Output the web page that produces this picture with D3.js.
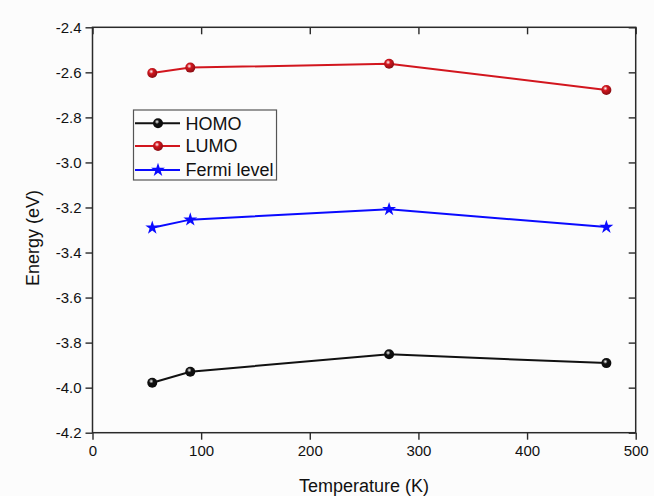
<!DOCTYPE html>
<html>
<head>
<meta charset="utf-8">
<script src="https://cdn.jsdelivr.net/npm/d3@7/dist/d3.min.js"></script>
<style>
  body { margin: 0; background: #fcfcfc; }
  svg { display: block; font-family: Arial, "Liberation Sans", sans-serif; }
</style>
</head>
<body>
<svg width="654" height="496"></svg>
<script>
// **** Data ****
var temperatures = [55, 90, 273, 473];
var homo = [-3.978, -3.929, -3.852, -3.891];
var lumo = [-2.603, -2.579, -2.562, -2.678];
var fermi = [-3.290, -3.254, -3.208, -3.287];
var xTicks = [0, 100, 200, 300, 400, 500];
var yTicks = [-2.4, -2.6, -2.8, -3.0, -3.2, -3.4, -3.6, -3.8, -4.0, -4.2];

var series = [
    { name: 'HOMO', values: homo, color: '#111111', marker: 'ball' },
    { name: 'LUMO', values: lumo, color: '#d2161e', marker: 'ball' },
    { name: 'Fermi level', values: fermi, color: '#0a0aff', marker: 'star' }
];

// **** Scales ****
var xScale = d3.scaleLinear().domain([0, 500]).range([92.5, 635.7]);
var yScale = d3.scaleLinear().domain([-4.2, -2.4]).range([432.7, 27.3]);

var svg = d3.select('svg');

// gradients for the shaded ball markers
var defs = svg.append('defs');
series.forEach(function (s, i) {
    var g = defs.append('radialGradient')
        .attr('id', 'ball' + i)
        .attr('cx', '40%').attr('cy', '35%').attr('r', '65%');
    g.append('stop').attr('offset', '0%').attr('stop-color', '#ffffff');
    g.append('stop').attr('offset', '35%').attr('stop-color', s.color);
    g.append('stop').attr('offset', '100%').attr('stop-color', d3.color(s.color).darker(1.2));
});

// **** Axes ****
var frame = '#2a2a2a';

svg.append('g')
    .attr('transform', 'translate(0,432.7)')
    .call(d3.axisBottom(xScale).tickValues(xTicks).tickSize(7).tickPadding(6).tickFormat(d3.format('d')))
    .call(function (g) {
        g.select('.domain').remove();
        g.selectAll('line').attr('stroke', frame).attr('stroke-width', 1.4);
        g.selectAll('text').style('font-size', '15px').attr('fill', '#111');
    });

svg.append('g')
    .attr('transform', 'translate(92.5,0)')
    .call(d3.axisLeft(yScale).tickValues(yTicks).tickSize(7).tickPadding(4).tickFormat(d3.format('.1f')))
    .call(function (g) {
        g.select('.domain').remove();
        g.selectAll('line').attr('stroke', frame).attr('stroke-width', 1.4);
        g.selectAll('text').style('font-size', '15px').attr('fill', '#111')
            .text(function (d) { return d3.format('.1f')(d).replace('\u2212', '-'); });
    });

// mirrored inward ticks on top and right
svg.append('g')
    .attr('transform', 'translate(0,27.3)')
    .call(d3.axisBottom(xScale).tickValues(xTicks).tickSize(7).tickFormat(''))
    .call(function (g) {
        g.select('.domain').remove();
        g.selectAll('line').attr('stroke', frame).attr('stroke-width', 1.4);
    });

svg.append('g')
    .attr('transform', 'translate(635.7,0)')
    .call(d3.axisLeft(yScale).tickValues(yTicks).tickSize(7).tickFormat(''))
    .call(function (g) {
        g.select('.domain').remove();
        g.selectAll('line').attr('stroke', frame).attr('stroke-width', 1.4);
    });

// plot frame
svg.append('rect')
    .attr('x', xScale(0)).attr('y', yScale(-2.4))
    .attr('width', xScale(500) - xScale(0))
    .attr('height', yScale(-4.2) - yScale(-2.4))
    .attr('fill', 'none')
    .attr('stroke', frame)
    .attr('stroke-width', 1.5);

// axis labels
svg.append('text')
    .attr('x', 364).attr('y', 492)
    .attr('text-anchor', 'middle')
    .style('font-size', '18px')
    .attr('fill', '#111')
    .text('Temperature (K)');

svg.append('text')
    .attr('transform', 'translate(39,238) rotate(-90)')
    .attr('text-anchor', 'middle')
    .style('font-size', '18px')
    .attr('fill', '#111')
    .text('Energy (eV)');

// **** Lines and markers ****
var line = d3.line()
    .x(function (d, i) { return xScale(temperatures[i]); })
    .y(function (d) { return yScale(d); });

var star = d3.symbol().type(d3.symbolStar).size(60);

function drawMarker(sel, s, i, x, y) {
    if (s.marker === 'star') {
        sel.append('path')
            .attr('d', star)
            .attr('transform', 'translate(' + x + ',' + y + ')')
            .attr('fill', s.color);
    } else {
        sel.append('circle')
            .attr('cx', x).attr('cy', y).attr('r', 5)
            .attr('fill', 'url(#ball' + i + ')');
    }
}

series.forEach(function (s, i) {
    var g = svg.append('g');
    g.append('path')
        .datum(s.values)
        .attr('d', line)
        .attr('fill', 'none')
        .attr('stroke', s.color)
        .attr('stroke-width', 2);
    s.values.forEach(function (v, j) {
        drawMarker(g, s, i, xScale(temperatures[j]), yScale(v));
    });
});

// **** Legend ****
var legend = svg.append('g');
var box = legend.append('rect')
    .attr('x', 133.5).attr('y', 110)
    .attr('height', 70)
    .attr('fill', '#fcfcfc')
    .attr('stroke', '#555')
    .attr('stroke-width', 1.2);

var rowY = [123.3, 146, 170];
var maxRight = 0;
series.forEach(function (s, i) {
    legend.append('line')
        .attr('x1', 135).attr('x2', 180)
        .attr('y1', rowY[i]).attr('y2', rowY[i])
        .attr('stroke', s.color)
        .attr('stroke-width', 2);
    drawMarker(legend, s, i, 158, rowY[i]);
    var t = legend.append('text')
        .attr('x', 185.5).attr('y', rowY[i])
        .attr('dy', '0.36em')
        .style('font-size', '18px')
        .attr('fill', '#111')
        .text(s.name);
    var bb = t.node().getBBox();
    maxRight = Math.max(maxRight, bb.x + bb.width);
});
box.attr('width', maxRight + 3 - 133.5);
</script>
</body>
</html>
